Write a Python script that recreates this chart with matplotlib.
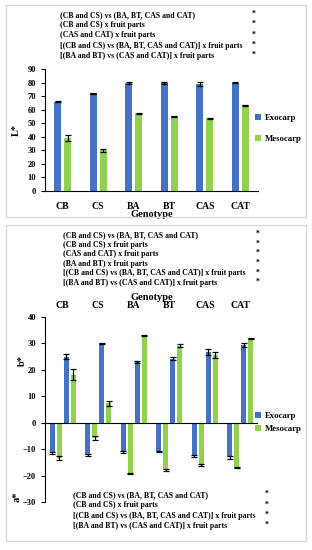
import matplotlib
matplotlib.use("Agg")
import matplotlib.pyplot as plt
from matplotlib.patches import Rectangle
import numpy as np

genotypes = ["CB", "CS", "BA", "BT", "CAS", "CAT"]

L_exo = [66.0, 72.2, 79.6, 79.6, 79.0, 80.0]
L_exo_err = [0.5, 0.3, 0.8, 1.0, 1.2, 0.3]
L_meso = [39.2, 30.0, 57.3, 55.2, 53.8, 63.4]
L_meso_err = [2.0, 1.0, 0.4, 0.4, 0.4, 0.4]

a_exo = [-11.4, -12.3, -11.1, -10.8, -12.6, -13.1]
a_exo_err = [0.4, 0.3, 0.3, 0.2, 0.3, 0.6]
a_meso = [-13.3, -5.8, -19.3, -17.9, -16.0, -17.0]
a_meso_err = [0.7, 0.6, 0.2, 0.3, 0.5, 0.3]
b_exo = [25.0, 30.0, 23.0, 24.2, 26.7, 29.3]
b_exo_err = [0.9, 0.3, 0.4, 0.6, 1.2, 0.8]
b_meso = [18.2, 7.3, 33.0, 29.2, 25.5, 31.9]
b_meso_err = [2.0, 0.8, 0.3, 0.7, 1.2, 0.3]

notes_top = ["(CB and CS) vs (BA, BT, CAS and CAT)",
             "(CB and CS) x fruit parts",
             "(CAS and CAT) x fruit parts",
             "[(CB and CS) vs (BA, BT, CAS and CAT)] x fruit parts",
             "[(BA and BT) vs (CAS and CAT)] x fruit parts"]
notes_mid = ["(CB and CS) vs (BA, BT, CAS and CAT)",
             "(CB and CS) x fruit parts",
             "(CAS and CAT) x fruit parts",
             "(BA and BT) x fruit parts",
             "[(CB and CS) vs (BA, BT, CAS and CAT)] x fruit parts",
             "[(BA and BT) vs (CAS and CAT)] x fruit parts"]
notes_bot = ["(CB and CS) vs (BA, BT, CAS and CAT)",
             "(CB and CS) x fruit parts",
             "[(CB and CS) vs (BA, BT, CAS and CAT)] x fruit parts",
             "[(BA and BT) vs (CAS and CAT)] x fruit parts"]

BLUE = "#4472C4"
GREEN = "#92D050"
FONT = "Liberation Serif"
plt.rcParams["font.family"] = FONT
plt.rcParams["font.weight"] = "bold"

W, H = 312, 550
fig = plt.figure(figsize=(W / 100, H / 100), dpi=100)


def fx(px):
    return px / W


def fy(py):
    return 1 - py / H


# panel borders
for (x0, y0, x1, y1) in [(6, 5, 306, 217), (6, 225, 306, 541)]:
    fig.patches.append(Rectangle((fx(x0), fy(y1)), fx(x1 - x0), (y1 - y0) / H,
                                 transform=fig.transFigure, fill=False,
                                 edgecolor="#d9d9d9", linewidth=1.0))

ekw = dict(ecolor="black", capsize=2, elinewidth=0.9, capthick=0.9)
x = np.arange(len(genotypes))
NOTE_FS = 5.6
LEG = {"family": FONT, "weight": "bold", "size": 6.3}

# ---------- Panel 1 ----------
ax1 = fig.add_axes([fx(45), fy(191), fx(258 - 45), (191 - 69) / H])
w1 = 0.2
ax1.bar(x - 0.14, L_exo, w1, yerr=L_exo_err, color=BLUE, label="Exocarp", error_kw=ekw)
ax1.bar(x + 0.14, L_meso, w1, yerr=L_meso_err, color=GREEN, label="Mesocarp", error_kw=ekw)
ax1.set_xlim(-0.5, len(genotypes) - 0.5)
ax1.set_ylim(0, 90)
ax1.set_yticks(range(0, 91, 10))
ax1.set_xticks(x)
ax1.set_xticklabels(genotypes, fontsize=7, fontweight="bold")
ax1.tick_params(axis="x", length=0, pad=8)
ax1.tick_params(axis="y", length=3, labelsize=6, width=0.8)
for t in ax1.get_yticklabels():
    t.set_fontweight("bold")
ax1.spines["top"].set_visible(False)
ax1.spines["right"].set_visible(False)
ax1.set_xlabel("Genotype", fontsize=7.5, fontweight="bold", labelpad=-1)
ax1.set_ylabel("L*", fontsize=7.5, fontweight="bold", labelpad=5)
ax1.legend(loc="center left", bbox_to_anchor=(0.985, 0.51), frameon=False,
           borderaxespad=0, borderpad=0,
           handlelength=0.7, handleheight=0.7, handletextpad=0.4,
           labelspacing=1.5, prop=LEG)

for i, t in enumerate(notes_top):
    fig.text(fx(60), fy(15 + i * 10.2), t, fontsize=NOTE_FS, fontweight="bold",
             va="center", ha="left")
    fig.text(fx(254), fy(14 + i * 10.2), "*", fontsize=NOTE_FS, va="center", ha="center")

# ---------- Panel 2 ----------
ax2 = fig.add_axes([fx(45), fy(502), fx(258 - 45), (502 - 317) / H])
w2 = 0.14
p = 0.197
ax2.bar(x - 1.5 * p, a_exo, w2, yerr=a_exo_err, color=BLUE, error_kw=ekw)
ax2.bar(x - 0.5 * p, a_meso, w2, yerr=a_meso_err, color=GREEN, error_kw=ekw)
ax2.bar(x + 0.5 * p, b_exo, w2, yerr=b_exo_err, color=BLUE, label="Exocarp", error_kw=ekw)
ax2.bar(x + 1.5 * p, b_meso, w2, yerr=b_meso_err, color=GREEN, label="Mesocarp", error_kw=ekw)
ax2.set_xlim(-0.5, len(genotypes) - 0.5)
ax2.set_ylim(-30, 40)
ax2.set_yticks(range(-30, 41, 10))
ax2.axhline(0, color="black", linewidth=0.8)
ax2.spines["top"].set_visible(False)
ax2.spines["right"].set_visible(False)
ax2.spines["bottom"].set_visible(False)
ax2.xaxis.tick_top()
ax2.xaxis.set_label_position("top")
ax2.set_xticks(x)
ax2.set_xticklabels(genotypes, fontsize=7, fontweight="bold")
ax2.tick_params(axis="x", length=0, pad=5)
ax2.tick_params(axis="y", length=3, labelsize=6, width=0.8)
for t in ax2.get_yticklabels():
    t.set_fontweight("bold")
ax2.set_xlabel("Genotype", fontsize=7.5, fontweight="bold", labelpad=1)
fig.text(fx(22), fy(361), "b*", rotation=90, fontsize=7.5, fontweight="bold",
         ha="center", va="center")
fig.text(fx(17), fy(497), "a*", rotation=90, fontsize=7.5, fontweight="bold",
         ha="center", va="center")
ax2.legend(loc="center left", bbox_to_anchor=(0.985, 0.43), frameon=False,
           borderaxespad=0, borderpad=0,
           handlelength=0.7, handleheight=0.7, handletextpad=0.4,
           labelspacing=0.6, prop=LEG)

for i, t in enumerate(notes_mid):
    fig.text(fx(63), fy(235 + i * 9.6), t, fontsize=NOTE_FS, fontweight="bold",
             va="center", ha="left")
    fig.text(fx(258), fy(234 + i * 9.6), "*", fontsize=NOTE_FS, va="center", ha="center")

for i, t in enumerate(notes_bot):
    fig.text(fx(73), fy(495 + i * 10.3), t, fontsize=NOTE_FS, fontweight="bold",
             va="center", ha="left")
    fig.text(fx(267), fy(494 + i * 10.3), "*", fontsize=NOTE_FS, va="center", ha="center")

fig.savefig("out.png", dpi=100)
